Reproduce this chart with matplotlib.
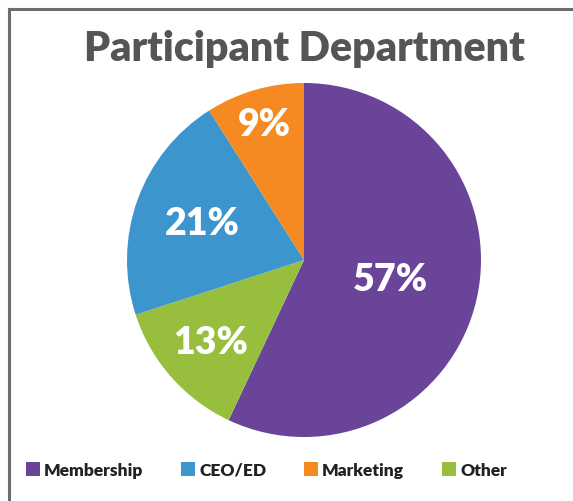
import matplotlib
matplotlib.use("Agg")
import matplotlib.pyplot as plt
import numpy as np
from matplotlib.lines import Line2D
from matplotlib.patches import Patch

plt.rcParams['font.family'] = ['Lato', 'DejaVu Sans']

title = "Participant Department"
slice_labels = ["Membership", "Other", "CEO/ED", "Marketing"]
slice_values = [57, 13, 21, 9]
slice_colors = ["#6A4499", "#97BF3D", "#3C95CC", "#F48A21"]
label_dist = [0.50, 0.70, 0.61, 0.80]
legend_order = ["Membership", "CEO/ED", "Marketing", "Other"]

W, H = 573, 502
fig = plt.figure(figsize=(W / 100, H / 100), dpi=100)
fig.patch.set_facecolor("white")

# frame lines (top and left)
fig.add_artist(Line2D([9 / W, 1.0], [1 - 10 / H, 1 - 10 / H], color="#6d6d6d", lw=2.2))
fig.add_artist(Line2D([9 / W, 9 / W], [0.0, 1 - 10 / H], color="#6d6d6d", lw=2.2))

cx, cy, r = 304, 261, 177
ax = fig.add_axes([(cx - r) / W, 1 - (cy + r) / H, 2 * r / W, 2 * r / H])
wedges, _ = ax.pie(slice_values, colors=slice_colors, startangle=90, counterclock=False,
                   radius=1.0, wedgeprops=dict(linewidth=0))
ax.set_xlim(-1, 1)
ax.set_ylim(-1, 1)
ax.set_aspect("equal")
ax.axis("off")

for w, v, d in zip(wedges, slice_values, label_dist):
    ang = np.deg2rad((w.theta1 + w.theta2) / 2)
    ax.text(d * np.cos(ang), d * np.sin(ang), f"{v}%", ha="center", va="center",
            color="white", fontsize=27, fontweight="heavy")

fig.text(cx / W, 1 - 49 / H, title, ha="center", va="center", fontsize=29.6,
         fontweight="heavy", color="#555555")

color_map = dict(zip(slice_labels, slice_colors))
handles = [Patch(facecolor=color_map[n], edgecolor="none", label=n) for n in legend_order]
leg = fig.legend(handles=handles, loc="center", bbox_to_anchor=(266.5 / W, 1 - 471 / H),
                 ncol=4, frameon=False, prop=dict(size=12.5, weight="heavy"),
                 handlelength=0.8, handleheight=0.8, handletextpad=0.22,
                 columnspacing=2.2, borderpad=0)
for t in leg.get_texts():
    t.set_color("#222222")

fig.savefig("out.png", dpi=100, facecolor="white")
